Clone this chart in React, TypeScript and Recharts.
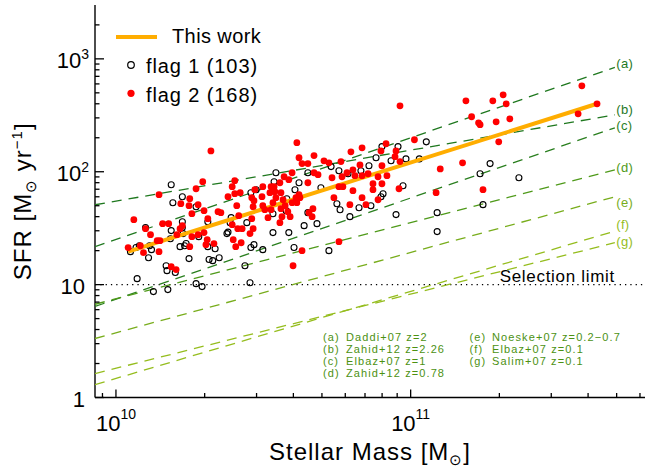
import React from 'react';
import { ScatterChart, Scatter, XAxis, YAxis, ReferenceLine, ReferenceDot, Legend } from 'recharts';

// Stellar mass in units of 10^10 Msun, SFR in Msun/yr
const flag1Mass = [
  1.54, 1.68, 1.56, 1.87, 1.26, 1.54, 1.68, 1.68, 1.69, 1.53, 1.12, 1.17, 1.20, 1.30, 1.32, 1.29,
  1.65, 1.73, 1.71, 1.77, 1.48, 1.49, 1.59, 1.18, 1.34, 1.50, 1.87, 1.96, 2.05, 2.07, 2.05, 1.91,
  2.17, 2.24, 2.13, 2.38, 2.46, 2.44, 2.40, 2.74, 2.85, 2.78, 2.87, 2.99, 2.87, 2.94, 3.15, 3.41,
  3.41, 3.44, 3.49, 3.80, 3.78, 4.05, 4.18, 3.86, 4.02, 4.35, 4.48, 4.48, 4.81, 4.96, 5.28, 5.37,
  5.71, 5.62, 5.76, 6.13, 6.78, 7.22, 6.22, 6.68, 7.33, 7.63, 7.99, 7.93, 8.06, 8.58, 9.06, 8.92,
  9.42, 9.64, 10.7, 11.3, 12.3, 12.3, 17.2, 17.6, 18.6, 23.3,
];
const flag1Sfr = [
  76.7, 60.1, 53.2, 49.0, 32.0, 30.1, 36.1, 32.0, 28.3, 25.5, 19.6, 21.3, 22.1, 22.1, 20.4, 17.3,
  21.7, 23.1, 22.1, 17.0, 14.7, 13.3, 12.8, 11.3, 8.67, 9.03, 10.2, 9.6, 36.1, 16.7, 21.7, 26.6,
  20.8, 17.3, 16.3, 28.3, 39.2, 35.4, 29.2, 14.7, 10.4, 35.4, 65.2, 69.3, 21.3, 22.6, 20.4, 28.9,
  42.5, 81.6, 98.0, 57.7, 45.2, 69.3, 79.9, 28.9, 21.3, 33.3, 43.4, 98.0, 34.7, 72.2, 20.0, 111,
  102, 52.1, 46.1, 96.0, 102, 113, 40.0, 48.0, 50.0, 133, 167, 60.1, 63.9, 125, 167, 41.7,
  75.2, 130, 130, 184, 43.4, 29.5, 96.0, 51.1, 118, 88.5,
];
const flag2Mass = [
  1.40, 1.97, 1.66, 1.78, 1.77, 1.90, 1.81, 1.15, 1.99, 1.44, 1.51, 1.26, 1.31, 1.68, 1.65, 1.61,
  1.41, 1.38, 1.10, 1.21, 1.24, 1.40, 1.81, 1.78, 1.90, 1.99, 2.04, 2.02, 1.54, 1.60, 1.87, 2.10,
  4.11, 4.18, 4.28, 4.48, 4.70, 5.08, 5.28, 3.96, 3.72, 3.86, 3.60, 3.44, 3.36, 3.33, 3.46, 3.63,
  3.49, 3.41, 3.69, 3.75, 3.96, 4.08, 4.11, 3.83, 3.63, 3.66, 3.90, 4.21, 4.18, 4.48, 4.70, 4.85,
  4.66, 4.52, 4.63, 3.13, 3.15, 2.96, 2.89, 2.94, 2.92, 3.36, 3.15, 3.20, 3.28, 3.60, 2.64, 2.53,
  2.48, 2.53, 2.40, 2.57, 2.61, 2.48, 2.59, 2.68, 2.85, 2.89, 2.92, 2.50, 2.55, 2.66, 2.15, 2.22,
  2.27, 2.05, 4.28, 3.99, 9.20, 15.4, 19.0, 20.6, 21.1, 16.1, 17.0, 17.2, 19.5, 21.7, 19.9, 15.0,
  12.6, 17.6, 12.2, 10.3, 8.25, 6.84, 6.27, 7.93, 8.92, 8.85, 9.20, 5.80, 6.73, 7.99, 6.37, 6.08,
  5.85, 6.47, 6.84, 7.17, 7.75, 8.31, 5.41, 5.71, 5.89, 6.37, 7.45, 7.99, 7.45, 6.84, 5.49, 7.75,
  7.05, 6.22, 9.13, 5.71, 38.1, 42.9, 37.0,
];
const flag2Sfr = [
  62.6, 81.6, 52.1, 57.7, 50.0, 51.1, 42.5, 37.6, 45.2, 34.7, 34.7, 31.3, 27.7, 33.3, 31.3, 27.7,
  24.5, 24.5, 21.3, 22.1, 19.2, 19.6, 26.6, 21.7, 27.7, 28.9, 25.0, 22.6, 14.4, 13.6, 70.7, 153,
  181, 133, 118, 118, 139, 125, 120, 98.0, 90.3, 85.0, 79.9, 73.7, 73.7, 65.2, 66.5, 65.2,
  58.9, 53.2, 56.5, 50.0, 53.2, 58.9, 53.2, 44.3, 47.1, 40.0, 40.0, 58.9, 62.6, 79.9, 98.0, 94.1,
  47.1, 43.4, 40.0, 60.1, 73.7, 69.3, 58.9, 55.4, 49.0, 46.1, 50.0, 46.1, 39.2, 35.4, 65.2, 83.3,
  73.7, 63.9, 60.1, 50.0, 40.8, 34.0, 31.3, 31.3, 28.3, 38.4, 31.3, 25.0, 21.7, 23.5, 23.1, 44.3,
  43.4, 38.4, 20.0, 14.7, 384, 425, 425, 480, 400, 307, 271, 261, 277, 294, 184, 120,
  106, 69.3, 65.2, 192, 177, 163, 150, 153, 153, 136, 123, 123, 115, 113, 104, 98.0,
  90.3, 92.2, 92.2, 96.0, 90.3, 92.2, 88.5, 73.7, 73.7, 67.9, 78.3, 78.3, 69.3, 58.9, 58.9, 56.5,
  51.1, 51.1, 70.7, 24.0, 577, 400, 326,
];

// "This work" fit
const thisWorkMass = [1.10, 42.9];
const thisWorkSfr = [19.6, 400];

// literature main-sequence relations
const relTags = ['(a)', '(b)', '(c)', '(d)', '(e)', '(f)', '(g)'];
const relAuthors = ['Daddi+07', 'Zahid+12', 'Elbaz+07', 'Zahid+12', 'Noeske+07', 'Elbaz+07', 'Salim+07'];
const relRedshift = ['z=2', 'z=2.26', 'z=1', 'z=0.78', 'z=0.2\u22120.7', 'z=0.1', 'z=0.1'];
const relMass = [0.849, 49.3];
const relSfrStart = [21.7, 51.0, 6.4, 6.7, 3.33, 1.30, 1.63];
const relSfrEnd = [841, 319, 245, 104, 60, 29.8, 23.5];

const selectionLimit = 10;
const legendLabels = ['This work', 'flag 1 (103)', 'flag 2 (168)'];

const xDomain = [0.849, 62.4];
const yDomain = [1, 3000];
const xMajor = [1, 10];
const xMajorExp = ['10', '11'];
const xMinor = [0.9, 2, 3, 4, 5, 6, 7, 8, 9, 20, 30, 40, 50, 60];
const yMajor = [1, 10, 100, 1000];
const yMajorBase = ['1', '10', '10', '10'];
const yMajorExp = ['', '', '2', '3'];
const yMinor = [2, 3, 4, 5, 6, 7, 8, 9, 20, 30, 40, 50, 60, 70, 80, 90, 200, 300, 400, 500, 600, 700, 800, 900, 2000];

const xTicks = [...xMajor, ...xMinor].sort((a, b) => a - b);
const yTicks = [...yMajor, ...yMinor].sort((a, b) => a - b);

const FONT = '"Liberation Sans", Arial, Helvetica, sans-serif';
const relColors = ['#1f781f', '#1f781f', '#2a7f1f', '#4f9a1a', '#78ad1c', '#95bd1e', '#95bd1e'];
const relLabelDy = [-3, -5, -1.5, -2, 6, -6.5, -0.5];
const keyColor = '#4c9112';
const ORANGE = '#ffad00';

const flag1 = flag1Mass.map((m, i) => ({ x: m, y: flag1Sfr[i] }));
const flag2 = flag2Mass.map((m, i) => ({ x: m, y: flag2Sfr[i] }));
const thisWork = thisWorkMass.map((m, i) => ({ x: m, y: thisWorkSfr[i] }));
const relations = relTags.map((t, i) => [
  { x: relMass[0], y: relSfrStart[i] },
  { x: relMass[1], y: relSfrEnd[i] },
]);

const MAJ = 9;
const MIN = 4.5;
const AX = { stroke: '#000', strokeWidth: 1.4 };

function BottomTick(props: any) {
  const { x, y, payload } = props;
  const i = xMajor.indexOf(payload.value);
  return (
    <g>
      <line x1={x} y1={y} x2={x} y2={y - (i >= 0 ? MAJ - 1 : MIN)} stroke="#000" strokeWidth={1.3} />
      {i >= 0 && (
        <text x={x} y={y + 33} textAnchor="middle" fontSize={22} fill="#000" fontFamily={FONT}>
          10
          <tspan dy={-11.5} fontSize={14}>{xMajorExp[i]}</tspan>
        </text>
      )}
    </g>
  );
}

function TopTick(props: any) {
  const { x, y, payload } = props;
  const i = xMajor.indexOf(payload.value);
  return <line x1={x} y1={y} x2={x} y2={y + (i >= 0 ? MAJ - 1 : MIN)} stroke="#000" strokeWidth={1.3} />;
}

function LeftTick(props: any) {
  const { x, y, payload } = props;
  const i = yMajor.indexOf(payload.value);
  return (
    <g>
      <line x1={x} y1={y} x2={x + (i >= 0 ? MAJ : MIN)} y2={y} stroke="#000" strokeWidth={1.3} />
      {i >= 0 && (
        <text
          x={yMajorExp[i] ? x - 6 : x - 10}
          y={y + 9}
          textAnchor="end"
          fontSize={22}
          fill="#000"
          fontFamily={FONT}
        >
          {yMajorBase[i]}
          {yMajorExp[i] && <tspan dy={-9} fontSize={14}>{yMajorExp[i]}</tspan>}
        </text>
      )}
    </g>
  );
}

function RightTick(props: any) {
  const { x, y, payload } = props;
  const i = yMajor.indexOf(payload.value);
  return <line x1={x} y1={y} x2={x - (i >= 0 ? MAJ - 1 : MIN)} y2={y} stroke="#000" strokeWidth={1.3} />;
}

const OpenDot = (p: any) => (
  <circle cx={p.cx} cy={p.cy} r={3} fill="none" stroke="#000" strokeWidth={1.1} />
);
const RedDot = (p: any) => <circle cx={p.cx} cy={p.cy} r={3.4} fill="#ff0000" />;
const NoDot = () => <g />;

function XTitle(p: any) {
  const vb = p.viewBox || { x: 95, y: 397.5, width: 550, height: 72.5 };
  return (
    <text
      x={vb.x + vb.width / 2}
      y={vb.y + 62.5}
      textAnchor="middle"
      fontSize={24}
      letterSpacing={1}
      fill="#000"
      fontFamily={FONT}
    >
      Stellar Mass [M<tspan dy={5} fontSize={15}>{'\u2299'}</tspan>
      <tspan dy={-5}>]</tspan>
    </text>
  );
}

function YTitle(p: any) {
  const vb = p.viewBox || { x: 0, y: 5, width: 95, height: 392.5 };
  const cx = 31;
  const cy = vb.y + vb.height / 2;
  return (
    <text
      x={cx}
      y={cy}
      transform={`rotate(-90 ${cx} ${cy})`}
      textAnchor="middle"
      fontSize={24}
      letterSpacing={1}
      fill="#000"
      fontFamily={FONT}
    >
      SFR [M<tspan dy={5} fontSize={15}>{'\u2299'}</tspan>
      <tspan dy={-5}> yr</tspan>
      <tspan dy={-9} fontSize={15}>{'\u22121'}</tspan>
      <tspan dy={9}>]</tspan>
    </text>
  );
}

function SelectionLabel(p: any) {
  const vb = p.viewBox || { x: 95, y: 285, width: 550, height: 0 };
  return (
    <text
      x={vb.x + vb.width - 30}
      y={vb.y - 2.5}
      textAnchor="end"
      fontSize={17}
      letterSpacing={0.7}
      fill="#000"
      fontFamily={FONT}
    >
      Selection limit
    </text>
  );
}

function makeRelLabel(i: number) {
  return (p: any) => {
    const vb = p.viewBox || { x: 0, y: 0 };
    return (
      <text
        x={vb.x + 2}
        y={vb.y + relLabelDy[i] + 4.5}
        fontSize={13}
        letterSpacing={0.3}
        fill={relColors[i]}
        fontFamily={FONT}
      >
        {relTags[i]}
      </text>
    );
  };
}

const keyRowsY = [340.5, 352.8, 365.1, 377.4];

function LegendBox() {
  return (
    <svg width={647} height={470} style={{ display: 'block', pointerEvents: 'none' }} fontFamily={FONT}>
      <line x1={116} y1={37} x2={157} y2={37} stroke={ORANGE} strokeWidth={4} />
      <text x={172} y={43.3} fontSize={20} letterSpacing={0.4} fill="#000">{legendLabels[0]}</text>
      <circle cx={131} cy={65} r={3.3} fill="none" stroke="#000" strokeWidth={1.2} />
      <text x={146} y={72.5} fontSize={20} letterSpacing={0.9} fill="#000">{legendLabels[1]}</text>
      <circle cx={131} cy={93.3} r={3.6} fill="#ff0000" />
      <text x={146} y={101.5} fontSize={20} letterSpacing={0.9} fill="#000">{legendLabels[2]}</text>
      {relTags.map((t, i) => {
        const col = i < 4 ? 0 : 1;
        const row = i < 4 ? i : i - 4;
        const tx = col === 0 ? 323 : 469.5;
        const nx = col === 0 ? 346 : 492;
        return (
          <g key={t} fill={keyColor} fontSize={11} letterSpacing={1.1}>
            <text x={tx} y={keyRowsY[row]}>{t}</text>
            <text x={nx} y={keyRowsY[row]} style={{ whiteSpace: 'pre' }}>
              {relAuthors[i] + ' ' + relRedshift[i]}
            </text>
          </g>
        );
      })}
    </svg>
  );
}

export default function App() {
  return (
    <div style={{ position: 'absolute', left: 0, top: 0, width: 647, height: 470, background: '#fff' }}>
      <ScatterChart
        width={647}
        height={470}
        margin={{ top: 5, right: 2, bottom: 0, left: 0 }}
        style={{ fontFamily: FONT }}
      >
        <XAxis
          xAxisId="b"
          type="number"
          dataKey="x"
          scale="log"
          domain={xDomain}
          allowDataOverflow
          ticks={xTicks}
          interval={0}
          tickSize={0}
          tickMargin={0}
          height={72.5}
          axisLine={AX}
          tickLine={false}
          tick={(p: any) => <BottomTick {...p} />}
          label={{ content: (p: any) => <XTitle {...p} /> }}
        />
        <XAxis
          xAxisId="t"
          orientation="top"
          type="number"
          scale="log"
          domain={xDomain}
          allowDataOverflow
          ticks={xTicks}
          interval={0}
          tickSize={0}
          tickMargin={0}
          height={0}
          axisLine={AX}
          tickLine={false}
          tick={(p: any) => <TopTick {...p} />}
        />
        <YAxis
          yAxisId="l"
          type="number"
          dataKey="y"
          scale="log"
          domain={yDomain}
          allowDataOverflow
          ticks={yTicks}
          interval={0}
          tickSize={0}
          tickMargin={0}
          width={95}
          axisLine={AX}
          tickLine={false}
          tick={(p: any) => <LeftTick {...p} />}
          label={{ content: (p: any) => <YTitle {...p} /> }}
        />
        <YAxis
          yAxisId="r"
          orientation="right"
          type="number"
          scale="log"
          domain={yDomain}
          allowDataOverflow
          ticks={yTicks}
          interval={0}
          tickSize={0}
          tickMargin={0}
          width={0}
          axisLine={AX}
          tickLine={false}
          tick={(p: any) => <RightTick {...p} />}
        />

        <ReferenceLine
          xAxisId="b"
          yAxisId="l"
          y={selectionLimit}
          stroke="#000"
          strokeWidth={1.3}
          strokeDasharray="1.3 4"
          label={{ content: (p: any) => <SelectionLabel {...p} /> }}
        />

        {relations.map((d, i) => (
          <Scatter
            key={relTags[i]}
            name={relTags[i]}
            xAxisId="b"
            yAxisId="l"
            data={d}
            line={{ stroke: relColors[i], strokeWidth: 1.3, strokeDasharray: '10 7' }}
            shape={NoDot}
            isAnimationActive={false}
            legendType="none"
          />
        ))}

        <Scatter
          name="flag 1"
          xAxisId="b"
          yAxisId="l"
          data={flag1}
          shape={OpenDot}
          isAnimationActive={false}
        />
        <Scatter
          name="This work"
          xAxisId="b"
          yAxisId="l"
          data={thisWork}
          line={{ stroke: ORANGE, strokeWidth: 4 }}
          shape={NoDot}
          isAnimationActive={false}
        />
        <Scatter
          name="flag 2"
          xAxisId="b"
          yAxisId="l"
          data={flag2}
          shape={RedDot}
          isAnimationActive={false}
        />

        {relTags.map((t, i) => (
          <ReferenceDot
            key={'lab' + t}
            xAxisId="b"
            yAxisId="l"
            x={relMass[1]}
            y={relSfrEnd[i]}
            r={0.5}
            fill="none"
            stroke="none"
            label={{ content: makeRelLabel(i) }}
          />
        ))}

        <Legend
          layout="vertical"
          align="center"
          verticalAlign="middle"
          wrapperStyle={{ left: 0, top: 0, width: 647, height: 470, pointerEvents: 'none' }}
          content={() => <LegendBox />}
        />
      </ScatterChart>
    </div>
  );
}
